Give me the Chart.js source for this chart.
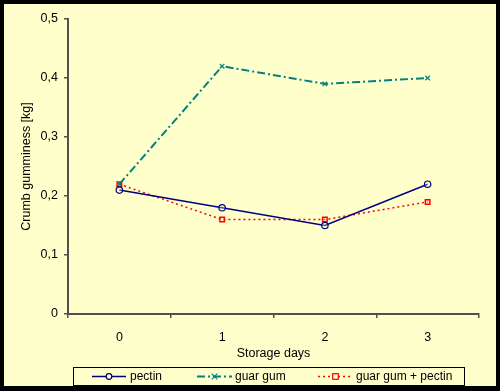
<!DOCTYPE html>
<html>
<head>
<meta charset="utf-8">
<script src="https://cdn.jsdelivr.net/npm/chart.js@4/dist/chart.umd.min.js"></script>
<style>
  html, body { margin: 0; padding: 0; background: #000; }
  #wrap { width: 500px; height: 391px; }
</style>
</head>
<body>
<div id="wrap"><canvas id="c" width="500" height="391"></canvas></div>
<script>
// data
const days = ['0', '1', '2', '3'];
const pectin = [0.21, 0.18, 0.15, 0.22];
const guarGum = [0.22, 0.42, 0.39, 0.40];
const guarPectin = [0.22, 0.16, 0.16, 0.19];
const yTickLabels = ['0', '0,1', '0,2', '0,3', '0,4', '0,5'];
const seriesNames = ['pectin', 'guar gum', 'guar gum + pectin'];

const FONT = 'Liberation Sans, Arial, sans-serif';
const AXIS = '#505050';

// black frame + pale yellow panel, legend box drawn by hand
const framePlugin = {
  id: 'frame',
  beforeDraw(chart) {
    const ctx = chart.ctx;
    ctx.save();
    ctx.fillStyle = '#000';
    ctx.fillRect(0, 0, chart.width, chart.height);
    ctx.fillStyle = '#ffffcc';
    ctx.fillRect(4, 4, 492, 382);
    ctx.restore();
  },
  afterDraw(chart) {
    const ctx = chart.ctx;
    ctx.save();
    ctx.strokeStyle = '#000';
    ctx.lineWidth = 1;
    ctx.strokeRect(73.5, 367.5, 391, 18);
    const slots = [
      { x0: 92, x1: 126, tx: 130 },
      { x0: 197, x1: 232, tx: 235 },
      { x0: 318, x1: 353, tx: 356 }
    ];
    const y = 376.5;
    chart.data.datasets.forEach((ds, i) => {
      const s = slots[i];
      ctx.strokeStyle = ds.borderColor;
      ctx.lineWidth = ds.borderWidth;
      ctx.setLineDash(ds.borderDash || []);
      ctx.beginPath();
      ctx.moveTo(s.x0, y);
      ctx.lineTo(s.x1, y);
      ctx.stroke();
      ctx.setLineDash([]);
      const mx = (s.x0 + s.x1) / 2;
      ctx.fillStyle = '#ffffcc';
      ctx.lineWidth = 1.2;
      const r = 2.8;
      if (ds.pointStyle === 'circle') {
        ctx.beginPath(); ctx.arc(mx, y, r, 0, Math.PI * 2); ctx.fill(); ctx.stroke();
      } else if (ds.pointStyle === 'rect') {
        ctx.fillRect(mx - r, y - r, 2 * r, 2 * r);
        ctx.strokeRect(mx - r, y - r, 2 * r, 2 * r);
      } else {
        ctx.beginPath();
        ctx.moveTo(mx - r, y - r); ctx.lineTo(mx + r, y + r);
        ctx.moveTo(mx + r, y - r); ctx.lineTo(mx - r, y + r);
        ctx.stroke();
      }
      ctx.fillStyle = '#000';
      ctx.font = '12px ' + FONT;
      ctx.textBaseline = 'middle';
      ctx.textAlign = 'left';
      ctx.fillText(seriesNames[i], s.tx, y);
    });
    ctx.restore();
  }
};

new Chart(document.getElementById('c'), {
  type: 'line',
  data: {
    labels: days,
    datasets: [
      {
        label: seriesNames[0], data: pectin,
        borderColor: '#000080', borderWidth: 1.5,
        pointStyle: 'circle', pointRadius: 3.2, pointBorderWidth: 1.2,
        pointBackgroundColor: 'rgba(255,255,204,0.3)', pointBorderColor: '#000080',
        tension: 0
      },
      {
        label: seriesNames[1], data: guarGum,
        borderColor: '#008080', borderWidth: 2, borderDash: [8, 3, 2, 3],
        pointStyle: 'crossRot', pointRadius: 3.2, pointBorderWidth: 1.2,
        pointBorderColor: '#008080',
        tension: 0
      },
      {
        label: seriesNames[2], data: guarPectin,
        borderColor: '#ff0000', borderWidth: 1.5, borderDash: [2, 3],
        pointStyle: 'rect', pointRadius: 3.2, pointBorderWidth: 1.5,
        pointBackgroundColor: 'rgba(255,255,204,0.3)', pointBorderColor: '#ff0000',
        tension: 0
      }
    ]
  },
  options: {
    responsive: false,
    animation: false,
    devicePixelRatio: 1,
    layout: { padding: { top: 19, right: 21, left: 0, bottom: 0 } },
    plugins: {
      legend: { display: false },
      tooltip: { enabled: false }
    },
    scales: {
      x: {
        type: 'category',
        offset: true,
        afterFit(scale) { scale.height = 77; },
        grid: {
          offset: true, drawOnChartArea: false, drawTicks: true,
          tickLength: 4, color: AXIS, lineWidth: 1.5
        },
        border: { color: AXIS, width: 2 },
        ticks: { color: '#000', font: { family: FONT, size: 12.5 }, padding: 12, maxRotation: 0 },
        title: {
          display: true, text: 'Storage days', color: '#000',
          font: { family: FONT, size: 12.5 }, padding: { top: 0, bottom: 30 }
        }
      },
      y: {
        min: 0, max: 0.5,
        afterFit(scale) { scale.width = 68; },
        afterBuildTicks(scale) {
          scale.ticks = yTickLabels.map((_, i) => ({ value: i / 10 }));
        },
        grid: {
          drawOnChartArea: false, drawTicks: true,
          tickLength: 4, color: AXIS, lineWidth: 1.5
        },
        border: { color: AXIS, width: 2 },
        ticks: {
          color: '#000', font: { family: FONT, size: 12.5 }, padding: 6,
          callback: (v, i) => yTickLabels[i]
        },
        title: {
          display: true, text: 'Crumb gumminess [kg]', color: '#000',
          font: { family: FONT, size: 12.5 }, padding: { top: 19, bottom: 0 }
        }
      }
    }
  },
  plugins: [framePlugin]
});
</script>
</body>
</html>
